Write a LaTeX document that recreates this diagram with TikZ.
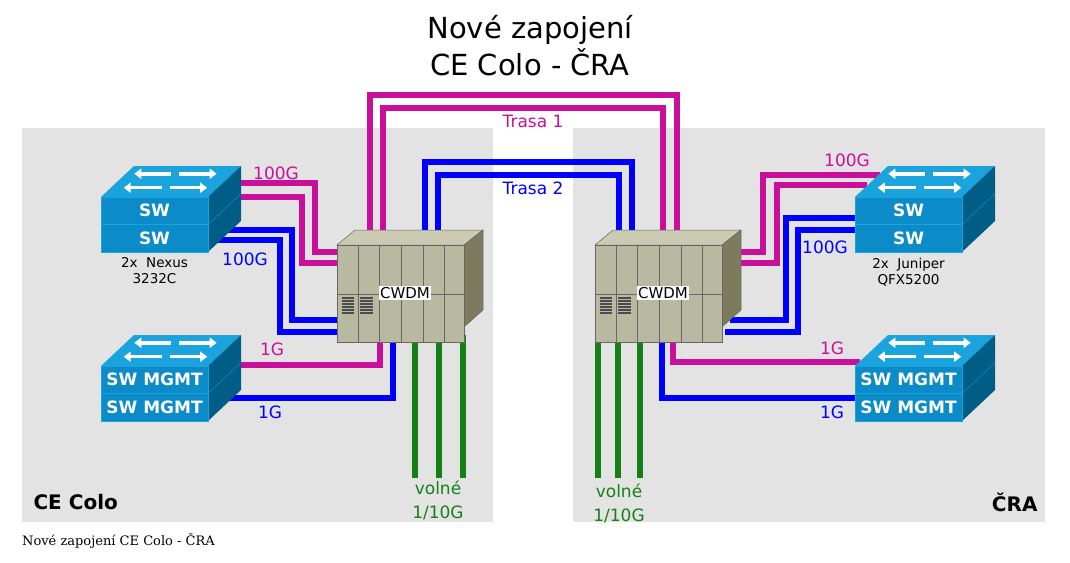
\documentclass[tikz,border=0pt]{standalone}
\usepackage{fontspec}
\setmainfont{DejaVu Sans}
\newfontfamily\capfont{DejaVu Serif}
\usetikzlibrary{arrows.meta, positioning}

\definecolor{panel}{HTML}{E3E3E3}
\definecolor{trpink}{HTML}{C8109A}
\definecolor{trblue}{HTML}{0000FF}
\definecolor{trgreen}{HTML}{168016}
\definecolor{swtopc}{HTML}{1AA3DD}
\definecolor{swfrontc}{HTML}{0B8CC8}
\definecolor{swsidec}{HTML}{005E86}
\definecolor{cwfront}{HTML}{B9B8A0}
\definecolor{cwtop}{HTML}{CBCAB3}
\definecolor{cwside}{HTML}{7C7B5E}

\tikzset{
  wire/.style={line width=5.5pt},
  pinkw/.style={wire, trpink},
  bluew/.style={wire, trblue},
  greenw/.style={wire, trgreen},
  swfront/.style={fill=swfrontc, draw=swtopc, line width=0.6pt, minimum width=107pt,
    minimum height=27.5pt, inner sep=0pt, text=white, font=\fontsize{17}{17}\selectfont\bfseries},
  lbl/.style={font=\fontsize{17}{17}\selectfont},
  small/.style={font=\fontsize{13.5}{16}\selectfont, align=center},
}

% switch stack: name, x, y of top front edge, text
\newcommand{\swstack}[4]{
  \fill[swtopc] (#2,#3) -- ++(107,0) -- ++(33,-31) -- ++(-107,0) -- cycle;
  \fill[swsidec] ({#2+107},#3) -- ++(33,-31) -- ++(0,55) -- ++(-33,31) -- cycle;
  \draw[swtopc!60!swsidec, line width=0.6pt] ({#2+107},{#3+27.5}) -- ++(33,-31);
  \node[swfront] (#1a) at ({#2+53.5},{#3+13.75}) {#4};
  \node[swfront] (#1b) at ({#2+53.5},{#3+41.25}) {#4};
  \foreach \ua/\ub/\v in {0.48/0.12/0.3, 0.55/0.9/0.3, 0.42/0.08/0.75, 0.5/0.85/0.75}
    \draw[white, line width=3.5pt, -{Triangle[width=10pt,length=7pt]}]
      ({#2+\ua*107+\v*33},{#3-\v*31}) -- ({#2+\ub*107+\v*33},{#3-\v*31});
}

% cwdm box: name, x, y of top front edge
\newcommand{\cwdmbox}[3]{
  \fill[cwtop, draw=black!60, line width=0.5pt] (#2,#3) -- ++(18,-15) -- ++(128,0) -- ++(-19,15) -- cycle;
  \fill[cwside, draw=black!60, line width=0.5pt] ({#2+127},#3) -- ++(19,-15) -- ++(0,80) -- ++(-19,17) -- cycle;
  \node[fill=cwfront, draw=black!60, line width=0.5pt, minimum width=127pt, minimum height=97pt,
    inner sep=0pt, anchor=north west] (#1) at (#2,#3) {};
  \foreach \d in {21,42,64,86,107}
    \draw[black!60, line width=0.6pt] ({#2+\d},#3) -- ({#2+\d},{#3+97});
  \draw[black!60, line width=0.6pt] (#2,{#3+49}) -- ({#2+127},{#3+49});
  \foreach \s in {53,56,...,68} {
    \draw[black!70, line width=1.2pt] ({#2+5},{#3+\s}) -- ({#2+17},{#3+\s});
    \draw[black!70, line width=1.2pt] ({#2+23},{#3+\s}) -- ({#2+36},{#3+\s});
  }
  \node[fill=white, inner sep=1pt, font=\fontsize{15}{15}\selectfont] (#1l) at ({#2+68},{#3+48}) {CWDM};
}

\begin{document}
\begin{tikzpicture}[x=1pt, y=-1pt]
  \useasboundingbox[fill=white] (0,0) rectangle (1070,562);

  % panels
  \fill[panel] (22,128) rectangle (493,522);
  \fill[panel] (573,128) rectangle (1045,522);

  \node[font=\fontsize{29}{37}\selectfont, align=center] (title) at (530,46) {Nové zapojení\\CE Colo - ČRA};

  % trasy
  \draw[pinkw] (370,240) -- (370,95) -- (677,95) -- (677,240);
  \draw[pinkw] (383,240) -- (383,108) -- (663,108) -- (663,240);
  \draw[bluew] (425,240) -- (425,162) -- (632,162) -- (632,240);
  \draw[bluew] (438,240) -- (438,175) -- (619,175) -- (619,240);
  \node[lbl, trpink, fill=panel!0!white, inner sep=1pt] (t1) at (533,121) {Trasa 1};
  \node[lbl, trblue, fill=white, inner sep=1pt] (t2) at (533,188) {Trasa 2};

  % left wires
  \draw[pinkw] (236,183) -- (315,183) -- (315,252) -- (345,252);
  \draw[pinkw] (236,197) -- (302,197) -- (302,263) -- (345,263);
  \draw[bluew] (225,230) -- (292,230) -- (292,320) -- (345,320);
  \draw[bluew] (215,240) -- (280,240) -- (280,332) -- (345,332);
  \draw[pinkw] (236,365) -- (380,365) -- (380,335);
  \draw[bluew] (225,398) -- (393,398) -- (393,335);
  \foreach \gx in {415,439,463}
    \draw[greenw] (\gx,335) -- (\gx,478);

  % right wires
  \draw[pinkw] (880,175) -- (763,175) -- (763,252) -- (730,252);
  \draw[pinkw] (867,185) -- (777,185) -- (777,263) -- (730,263);
  \draw[bluew] (860,218) -- (786,218) -- (786,320) -- (730,320);
  \draw[bluew] (860,230) -- (798,230) -- (798,332) -- (725,332);
  \draw[pinkw] (860,362) -- (673,362) -- (673,335);
  \draw[bluew] (860,398) -- (662,398) -- (662,335);
  \foreach \gx in {598,618,640}
    \draw[greenw] (\gx,335) -- (\gx,478);

  % devices
  \swstack{nexus}{101}{197}{SW}
  \swstack{mgmtl}{101}{366}{SW MGMT}
  \swstack{juniper}{855}{197}{SW}
  \swstack{mgmtr}{855}{366}{SW MGMT}
  \cwdmbox{cwdml}{337}{245}
  \cwdmbox{cwdmr}{595}{245}

  % labels
  \node[lbl, trpink] (l100p) at (276,173) {100G};
  \node[lbl, trblue] (l100b) at (245,259) {100G};
  \node[lbl, trpink] (l1p) at (272,349) {1G};
  \node[lbl, trblue] (l1b) at (270,412) {1G};
  \node[lbl, trpink] (r100p) at (847,160) {100G};
  \node[lbl, trblue] (r100b) at (825,247) {100G};
  \node[lbl, trpink] (r1p) at (832,348) {1G};
  \node[lbl, trblue] (r1b) at (832,412) {1G};
  \node[small] (nexus) [below=2pt of nexusb] {2x\ \ Nexus\\3232C};
  \node[small] (juniper) [below=2pt of juniperb] {2x\ \ Juniper\\QFX5200};
  \node[lbl, trgreen, align=center, font=\fontsize{17}{24}\selectfont] (gl) at (438,500) {volné\\1/10G};
  \node[lbl, trgreen, align=center, font=\fontsize{17}{24}\selectfont] (gr) at (619,503) {volné\\1/10G};
  \node[font=\fontsize{20}{20}\selectfont\bfseries, anchor=west] (ce) at (30,502) {CE Colo};
  \node[font=\fontsize{20}{20}\selectfont\bfseries, anchor=east] (cra) at (1041,502) {ČRA};
  \node[font=\capfont\fontsize{13}{13}\selectfont, anchor=west, inner sep=0pt] (cap) at (22,541) {Nové zapojení CE Colo - ČRA};
\end{tikzpicture}
\end{document}
